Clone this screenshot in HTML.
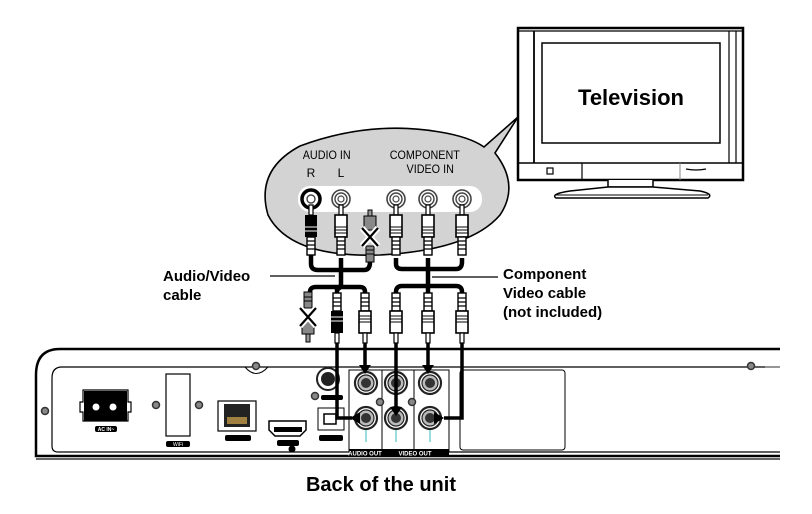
<!DOCTYPE html>
<html><head><meta charset="utf-8"><style>
html,body{margin:0;padding:0;background:#fff}
svg{display:block}
text{font-family:"Liberation Sans",Arial,sans-serif}
</style></head><body>
<svg width="812" height="514" viewBox="0 0 812 514" xmlns="http://www.w3.org/2000/svg">
<defs>
<g id="jack"><circle r="9" fill="#fff" stroke="#444" stroke-width="1.6"/><circle r="6" fill="none" stroke="#444" stroke-width="1.4"/><circle r="3" fill="none" stroke="#444" stroke-width="1.2"/></g>
<g id="plugW"><rect x="-2" y="0" width="4" height="10" fill="#fff" stroke="#000" stroke-width="1.2"/><rect x="-6" y="10" width="12" height="22" fill="#fff" stroke="#000" stroke-width="1.6"/><path d="M-6 22h12M-6 25h12M-6 28h12" stroke="#000"/><rect x="-4" y="32" width="8" height="18" fill="#fff" stroke="#000" stroke-width="1.4"/><path d="M-4 36h8M-4 40h8M-4 44h8" stroke="#000" stroke-width="1.3"/></g>
<g id="plugB"><rect x="-2" y="0" width="4" height="10" fill="#fff" stroke="#000" stroke-width="1.2"/><rect x="-6" y="10" width="12" height="22" fill="#000"/><path d="M-6 22h12M-6 26h12" stroke="#fff"/><rect x="-4" y="32" width="8" height="18" fill="#fff" stroke="#000" stroke-width="1.4"/><path d="M-4 36h8M-4 40h8M-4 44h8" stroke="#000" stroke-width="1.3"/></g>
<g id="plugWu"><rect x="-4" y="0" width="8" height="18" fill="#fff" stroke="#000" stroke-width="1.4"/><path d="M-4 5h8M-4 9h8M-4 13h8" stroke="#000" stroke-width="1.3"/><rect x="-6" y="18" width="12" height="22" fill="#fff" stroke="#000" stroke-width="1.6"/><path d="M-6 23h12M-6 26h12M-6 29h12" stroke="#000"/><rect x="-2" y="40" width="4" height="10" fill="#fff" stroke="#000" stroke-width="1.2"/></g>
<g id="plugBu"><rect x="-4" y="0" width="8" height="18" fill="#fff" stroke="#000" stroke-width="1.4"/><path d="M-4 5h8M-4 9h8M-4 13h8" stroke="#000" stroke-width="1.3"/><rect x="-6" y="18" width="12" height="22" fill="#000"/><path d="M-6 24h12M-6 28h12" stroke="#fff"/><rect x="-2" y="40" width="4" height="10" fill="#fff" stroke="#000" stroke-width="1.2"/></g>
<g id="screw"><circle r="3.5" fill="#888" stroke="#333" stroke-width="1.5"/></g>
<g id="rca"><circle r="11" fill="#fff" stroke="#222" stroke-width="2.2"/><circle r="8" fill="#bbb" stroke="#222" stroke-width="1.2"/><circle r="5" fill="#333"/></g>
</defs>

<!-- TV -->
<rect x="518" y="28" width="225" height="152" fill="#fff" stroke="#000" stroke-width="2.5"/>
<line x1="518" y1="31" x2="743" y2="31" stroke="#000" stroke-width="1.2"/>
<line x1="534" y1="31" x2="534" y2="163" stroke="#000" stroke-width="1.8"/>
<line x1="729" y1="31" x2="729" y2="163" stroke="#000" stroke-width="1.2"/>
<line x1="736" y1="31" x2="736" y2="163" stroke="#000" stroke-width="1.2"/>
<line x1="518" y1="163" x2="743" y2="163" stroke="#000" stroke-width="1.5"/>
<rect x="542" y="43" width="178" height="100" fill="#fff" stroke="#000" stroke-width="1.5"/>
<text x="631" y="105" font-size="22" font-weight="bold" text-anchor="middle">Television</text>
<rect x="547" y="168" width="6" height="6" fill="none" stroke="#000" stroke-width="1.2"/>
<line x1="582" y1="163" x2="582" y2="180" stroke="#000" stroke-width="1.2"/>
<line x1="680" y1="163" x2="680" y2="180" stroke="#888" stroke-width="1"/>
<path d="M686 169q10 2 20 0" stroke="#000" fill="none" stroke-width="1.2"/>
<path d="M608 180v7h45v-7" fill="#fff" stroke="#000" stroke-width="1.5"/>
<path d="M608 187 L570 191 Q550 194 556 198 L708 198 Q714 194 700 191 L653 187Z" fill="#fff" stroke="#000" stroke-width="1.5"/>
<line x1="556" y1="195" x2="708" y2="195" stroke="#000" stroke-width="1"/>

<!-- bubble -->
<path d="M300 146 Q370 120 440 132 Q470 137 484 147 L518 117 L495 153 Q520 185 500 215 Q470 250 380 255 Q290 258 268 215 Q255 170 300 146Z" fill="#d3d3d3" stroke="#000" stroke-width="1.6"/>
<text x="327" y="159" font-size="12" text-anchor="middle" transform="scale(0.9 1) translate(36 0)">AUDIO IN</text>
<text x="311" y="177" font-size="12" text-anchor="middle">R</text>
<text x="341" y="177" font-size="12" text-anchor="middle">L</text>
<text x="425" y="159" font-size="12" text-anchor="middle" transform="scale(0.9 1) translate(47 0)">COMPONENT</text>
<text x="430" y="173" font-size="12" text-anchor="middle" transform="scale(0.9 1) translate(48 0)">VIDEO IN</text>
<rect x="298" y="186" width="184" height="26" rx="12" fill="#fff"/>
<circle cx="311" cy="199" r="9" fill="#fff" stroke="#000" stroke-width="3.5"/><circle cx="311" cy="199" r="4" fill="none" stroke="#444" stroke-width="1.4"/>
<use href="#jack" x="341" y="199"/>
<use href="#jack" x="396" y="199"/>
<use href="#jack" x="428" y="199"/>
<use href="#jack" x="462" y="199"/>

<!-- cables -->
<g fill="none" stroke="#000" stroke-width="4.5" stroke-linejoin="round">
<path d="M311 255 V264 Q311 270 318 270 H364 Q370 270 370 262"/>
<path d="M341 258 V284 Q341 288 336 290"/>
<path d="M310 300 V292 Q310 287 316 287 H360 Q365 287 365 292 V298"/>
<path d="M337 287 V298"/>
<path d="M396 258 V264 Q396 269 402 269 H456 Q462 269 462 262 V258"/>
<path d="M428 258 V294"/>
<path d="M396 298 V292 Q396 286 402 286 H456 Q462 286 462 292 V298"/>
</g>
<use href="#plugB" x="311" y="205"/>
<use href="#plugW" x="341" y="205"/>
<g transform="translate(370 210)"><rect x="-2" y="0" width="4" height="6" fill="#999" stroke="#000"/><rect x="-6" y="6" width="12" height="14" fill="#888" stroke="#000"/><rect x="-4" y="36" width="8" height="16" fill="#888" stroke="#000"/><path d="M-4 40h8M-4 44h8" stroke="#000"/></g>
<path d="M362 228 L378 246 M378 228 L362 246" stroke="#fff" stroke-width="6"/>
<path d="M362 228 L378 246 M378 228 L362 246" stroke="#000" stroke-width="2.2"/>
<use href="#plugW" x="396" y="205"/>
<use href="#plugW" x="428" y="205"/>
<use href="#plugW" x="462" y="205"/>

<g transform="translate(308 292)"><rect x="-4" y="0" width="8" height="16" fill="#888" stroke="#000"/><path d="M-4 5h8M-4 9h8" stroke="#000"/><rect x="-6" y="28" width="12" height="14" fill="#888" stroke="#000"/><rect x="-2" y="42" width="4" height="8" fill="#999" stroke="#000"/></g>
<path d="M300 308 L316 326 M316 308 L300 326" stroke="#fff" stroke-width="6"/>
<path d="M300 308 L316 326 M316 308 L300 326" stroke="#000" stroke-width="2.2"/>
<use href="#plugBu" x="337" y="293"/>
<use href="#plugWu" x="365" y="293"/>
<use href="#plugWu" x="396" y="293"/>
<use href="#plugWu" x="428" y="293"/>
<use href="#plugWu" x="462" y="293"/>

<!-- labels -->
<text x="163" y="281" font-size="15" font-weight="bold">Audio/Video</text>
<text x="163" y="300" font-size="15" font-weight="bold">cable</text>
<line x1="270" y1="276" x2="335" y2="276" stroke="#000" stroke-width="1.2"/>
<text x="503" y="279" font-size="15" font-weight="bold">Component</text>
<text x="503" y="298" font-size="15" font-weight="bold">Video cable</text>
<text x="503" y="317" font-size="15" font-weight="bold">(not included)</text>
<line x1="432" y1="277" x2="498" y2="277" stroke="#000" stroke-width="1.2"/>

<!-- unit -->
<path d="M780 349 H60 Q36 349 36 375 V456 H780" fill="#fff" stroke="#000" stroke-width="2.5"/>
<path d="M780 367 H62 Q52 367 52 378 V446 Q52 452 58 452 H780" fill="none" stroke="#000" stroke-width="1.2"/>
<line x1="36" y1="459" x2="780" y2="459" stroke="#666" stroke-width="2"/>
<line x1="765" y1="367" x2="780" y2="367" stroke="#888" stroke-width="1.5"/>
<use href="#screw" x="751" y="366"/>
<use href="#screw" x="256" y="366"/>
<use href="#screw" x="45" y="411"/>
<path d="M245 367 Q256 380 268 367" fill="none" stroke="#000"/>
<rect x="460" y="370" width="105" height="80" rx="3" fill="#fff" stroke="#000" stroke-width="1"/>
<!-- AC in -->
<path d="M80 402 H83 V390 H128 V402 H131 V412 H128 V421 H83 V412 H80Z" fill="#fff" stroke="#000" stroke-width="1.2"/>
<rect x="84" y="391" width="43" height="30" fill="#000"/>
<circle cx="96" cy="407" r="3.5" fill="#fff"/><circle cx="113" cy="407" r="3.5" fill="#fff"/>
<rect x="95" y="426" width="22" height="6" rx="2" fill="#000"/>
<text x="106" y="431" font-size="5" fill="#fff" text-anchor="middle" font-weight="bold">AC IN~</text>
<!-- wifi -->
<rect x="166" y="374" width="24" height="62" fill="#fff" stroke="#000" stroke-width="1.2"/>
<use href="#screw" x="156" y="405"/><use href="#screw" x="199" y="405"/>
<rect x="166" y="441" width="24" height="6" rx="2" fill="#000"/>
<text x="178" y="446" font-size="5" fill="#fff" text-anchor="middle">WiFi</text>
<!-- ethernet -->
<rect x="218" y="401" width="38" height="30" fill="#fff" stroke="#000" stroke-width="1.2"/>
<rect x="224" y="404" width="26" height="23" fill="#222"/>
<path d="M227 417h20v7h-20z" fill="#a08040"/>
<rect x="225" y="435" width="26" height="6" rx="2" fill="#000"/>
<!-- hdmi -->
<path d="M269 421 H306 V430 L300 436 H275 L269 430Z" fill="#fff" stroke="#000" stroke-width="1.5"/>
<rect x="274" y="427" width="28" height="5" fill="#000"/>
<rect x="277" y="440" width="22" height="6" rx="2" fill="#000"/>
<circle cx="292" cy="449" r="3.5" fill="#000"/>
<!-- coax/optical -->
<circle cx="328" cy="379" r="11" fill="#fff" stroke="#222" stroke-width="2"/><circle cx="328" cy="379" r="7" fill="#222"/>
<use href="#screw" x="315" y="396"/>
<rect x="321" y="395" width="22" height="5" rx="2" fill="#000"/>
<rect x="318" y="408" width="26" height="22" fill="#fff" stroke="#000"/>
<rect x="324" y="414" width="12" height="10" fill="#fff" stroke="#000" stroke-width="1.5"/>
<rect x="319" y="435" width="24" height="6" rx="2" fill="#000"/>
<!-- output panel -->
<rect x="349" y="370" width="38" height="82" fill="#fff" stroke="#000" stroke-width="1"/>
<rect x="382" y="370" width="32" height="82" fill="#fff" stroke="#000" stroke-width="1"/>
<rect x="414" y="370" width="35" height="82" fill="#fff" stroke="#000" stroke-width="1"/>
<use href="#rca" x="366" y="383"/><use href="#rca" x="396" y="383"/><use href="#rca" x="430" y="383"/>
<use href="#rca" x="366" y="418"/><use href="#rca" x="396" y="418"/><use href="#rca" x="430" y="418"/>
<use href="#screw" x="380" y="402"/><use href="#screw" x="412" y="402"/>
<path d="M366 430v12M396 430v12M430 430v12" stroke="#3bb" stroke-width="1"/>
<rect x="349" y="449" width="100" height="8" fill="#000"/>
<text x="365" y="455.5" font-size="6" fill="#fff" text-anchor="middle" font-weight="bold">AUDIO OUT</text>
<text x="415" y="455.5" font-size="6" fill="#fff" text-anchor="middle" font-weight="bold">VIDEO OUT</text>
<!-- cable runs to unit -->
<g fill="none" stroke="#000" stroke-width="3.5">
<path d="M337 343 V418 H352"/>
<path d="M365 343 V368"/>
<path d="M396 343 V410"/>
<path d="M428 343 V368"/>
<path d="M462 343 V418 H444"/>
</g>
<path d="M360 412 L350 418 L360 424Z M359 365 L365 374 L371 365Z M390 407 L396 416 L402 407Z M422 365 L428 374 L434 365Z M434 412 L444 418 L434 424Z" fill="#000"/>
<text x="381" y="491" font-size="20" font-weight="bold" text-anchor="middle">Back of the unit</text>
</svg>
</body></html>
